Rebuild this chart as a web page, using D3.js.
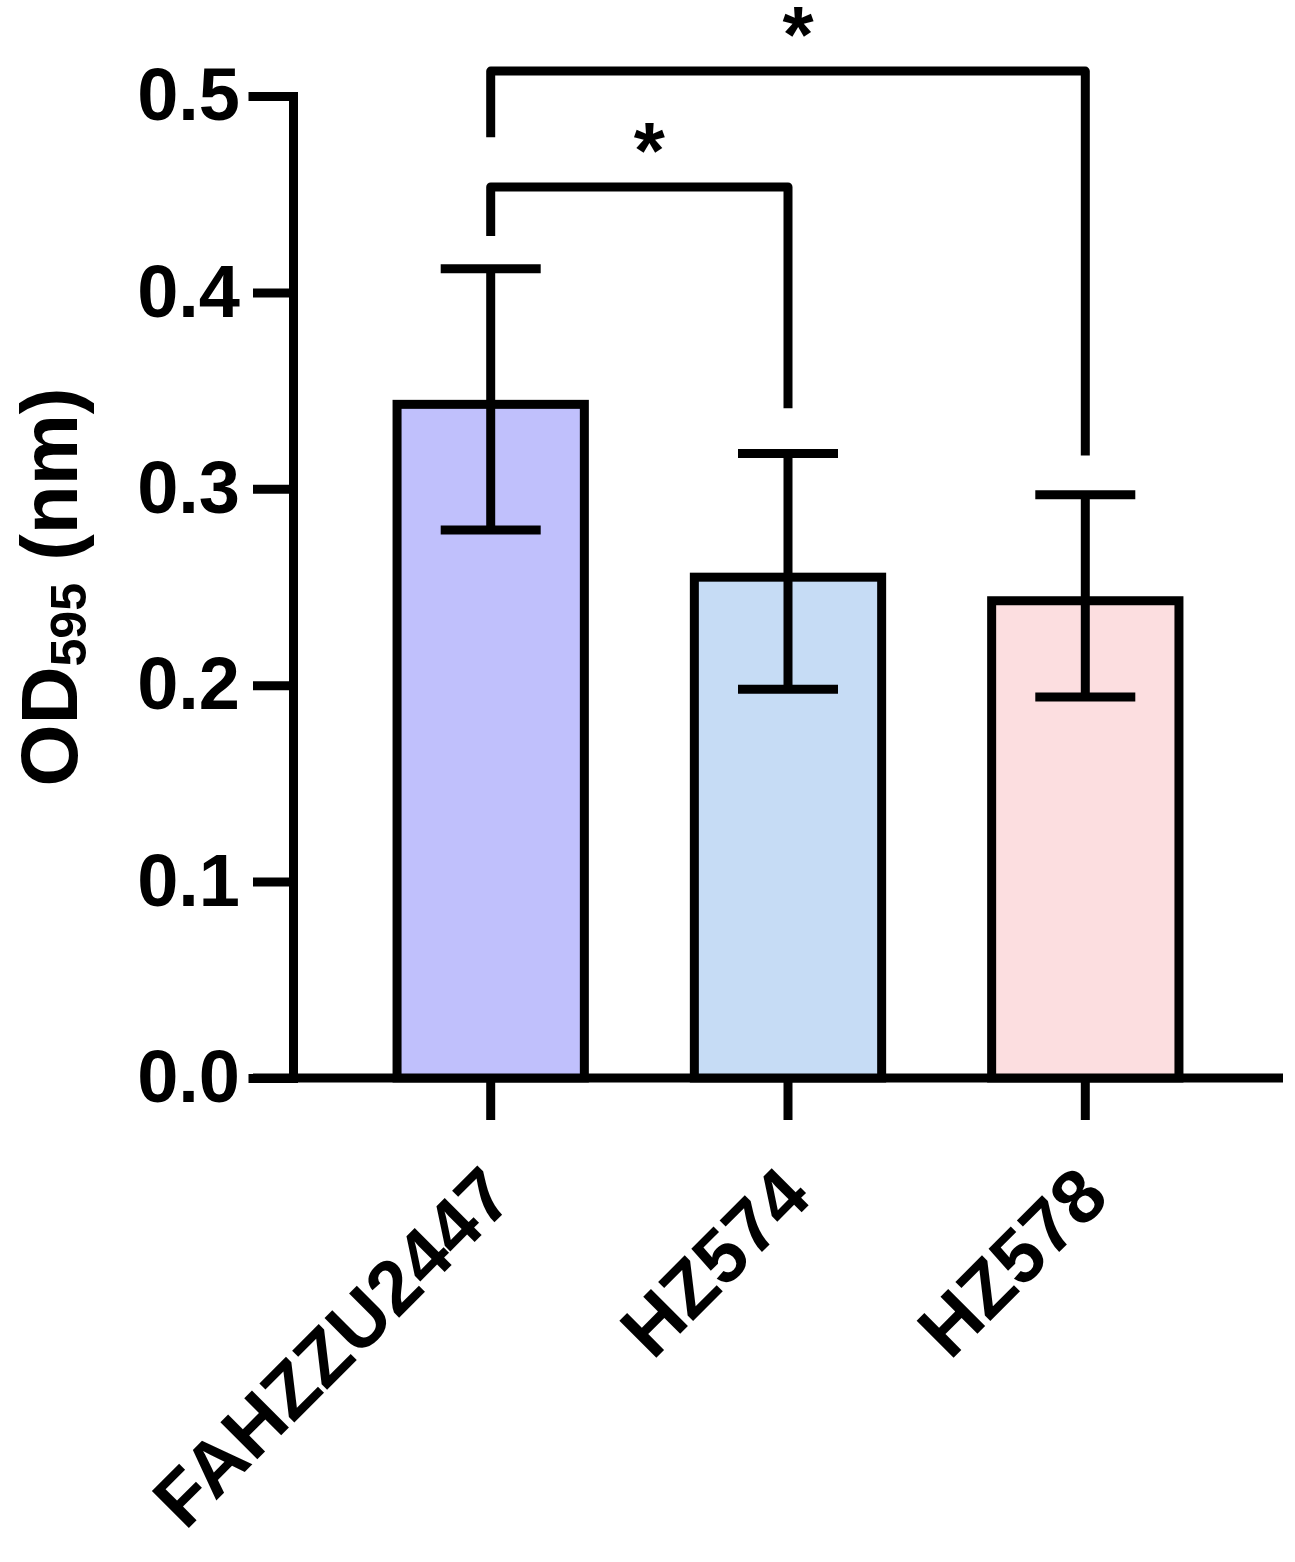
<!DOCTYPE html>
<html lang="en">

<head>
  <meta charset="UTF-8">
  <title>OD595</title>
  <script src="https://cdn.jsdelivr.net/npm/d3@7"></script>
  <style>
    body {
      margin: 0;
      background: #fff;
    }

    svg text {
      font-family: "Liberation Sans", Arial, sans-serif;
      font-weight: bold;
      fill: #000;
    }

    .axis path,
    .axis line {
      stroke: #000;
      stroke-width: 9px;
      fill: none;
    }

    .axis path {
      stroke-linecap: square;
    }
  </style>
</head>

<body>
  <script>
    const categories = ['FAHZZU2447', 'HZ574', 'HZ578'];
    const means = [0.343, 0.255, 0.243];
    const upper = [0.412, 0.318, 0.297];
    const lower = [0.279, 0.198, 0.194];
    const colors = ['#c0c0fc', '#c6dcf5', '#fcdee0'];
    const yTicks = [0, 0.1, 0.2, 0.3, 0.4, 0.5];

    // 显著性比较: 起止组, 横线高度, 两条竖腿的底端
    const compFrom = [0, 0];
    const compTo = [1, 2];
    const compLevel = [0.4537, 0.5127];
    const legFrom = [0.4287, 0.479];
    const legTo = [0.341, 0.317];
    const compLabel = ['*', '*'];

    const width = 1295;
    const height = 1562;
    const svg = d3.select('body').append('svg')
      .attr('width', width)
      .attr('height', height);

    const x0 = 293;
    const xScale = d3.scaleBand()
      .domain(categories)
      .range([x0, 1283])
      .paddingInner(0.37)
      .paddingOuter(0.35);

    const yScale = d3.scaleLinear()
      .domain([0, 0.5])
      .range([1078, 96]);

    const cx = (i) => xScale(categories[i]) + xScale.bandwidth() / 2;

    // y 轴
    const yAxis = d3.axisLeft(yScale)
      .tickValues(yTicks)
      .tickFormat(d3.format('.1f'))
      .tickSizeOuter(0)
      .tickSize(40)
      .tickPadding(13);

    const gy = svg.append('g')
      .attr('class', 'axis')
      .attr('transform', `translate(${x0},0)`)
      .call(yAxis);
    gy.selectAll('text')
      .style('font-size', '74px')
      .attr('font-family', null);

    // x 轴
    const xAxis = d3.axisBottom(xScale)
      .tickSizeOuter(0)
      .tickSize(42)
      .tickFormat('');

    const gx = svg.append('g')
      .attr('class', 'axis')
      .attr('transform', `translate(0,${yScale(0)})`)
      .call(xAxis);
    gx.select('.domain')
      .attr('d', `M${x0 - 40},0H${width - 12}`)
      .style('stroke-linecap', 'butt');

    // 柱子
    svg.selectAll('.bar')
      .data(means)
      .enter()
      .append('rect')
      .attr('class', 'bar')
      .attr('x', (d, i) => xScale(categories[i]))
      .attr('y', (d) => yScale(d))
      .attr('width', xScale.bandwidth())
      .attr('height', (d) => yScale(0) - yScale(d))
      .attr('fill', (d, i) => colors[i])
      .attr('stroke', '#000')
      .attr('stroke-width', 9);

    // 误差线
    const capHalf = 50;
    const err = svg.selectAll('.err')
      .data(means)
      .enter()
      .append('g')
      .attr('class', 'err')
      .attr('stroke', '#000')
      .attr('stroke-width', 9);
    err.append('line')
      .attr('x1', (d, i) => cx(i))
      .attr('x2', (d, i) => cx(i))
      .attr('y1', (d, i) => yScale(upper[i]))
      .attr('y2', (d, i) => yScale(lower[i]));
    err.append('line')
      .attr('x1', (d, i) => cx(i) - capHalf)
      .attr('x2', (d, i) => cx(i) + capHalf)
      .attr('y1', (d, i) => yScale(upper[i]))
      .attr('y2', (d, i) => yScale(upper[i]));
    err.append('line')
      .attr('x1', (d, i) => cx(i) - capHalf)
      .attr('x2', (d, i) => cx(i) + capHalf)
      .attr('y1', (d, i) => yScale(lower[i]))
      .attr('y2', (d, i) => yScale(lower[i]));

    // x 轴标签 (旋转 -45)
    svg.selectAll('.xlab')
      .data(categories)
      .enter()
      .append('text')
      .attr('class', 'xlab')
      .attr('transform', (d, i) => `translate(${cx(i) + 26},${yScale(0) + 122}) rotate(-45)`)
      .attr('text-anchor', 'end')
      .style('font-size', '76px')
      .text((d) => d);

    // y 轴标题
    const yTitle = svg.append('text')
      .attr('transform', `translate(77,${(yScale(0) + yScale(0.5)) / 2}) rotate(-90)`)
      .attr('text-anchor', 'middle')
      .style('font-size', '80px');
    yTitle.append('tspan').text('OD');
    yTitle.append('tspan').attr('dy', 9).style('font-size', '50px').text('595');
    yTitle.append('tspan').attr('dy', -9).text(' (nm)');

    // 显著性括号
    const comp = svg.selectAll('.comp')
      .data(compLabel)
      .enter()
      .append('g')
      .attr('class', 'comp');
    comp.append('path')
      .attr('d', (d, i) => {
        const a = cx(compFrom[i]);
        const b = cx(compTo[i]);
        return `M${a},${yScale(legFrom[i])}V${yScale(compLevel[i])}H${b}V${yScale(legTo[i])}`;
      })
      .attr('fill', 'none')
      .attr('stroke', '#000')
      .attr('stroke-width', 9)
      .attr('stroke-linejoin', 'round');
    comp.append('text')
      .attr('x', (d, i) => (cx(compFrom[i]) + cx(compTo[i])) / 2 + 10)
      .attr('y', (d, i) => yScale(compLevel[i]) - 9)
      .attr('text-anchor', 'middle')
      .style('font-size', '80px')
      .text((d) => d);
  </script>
</body>

</html>
